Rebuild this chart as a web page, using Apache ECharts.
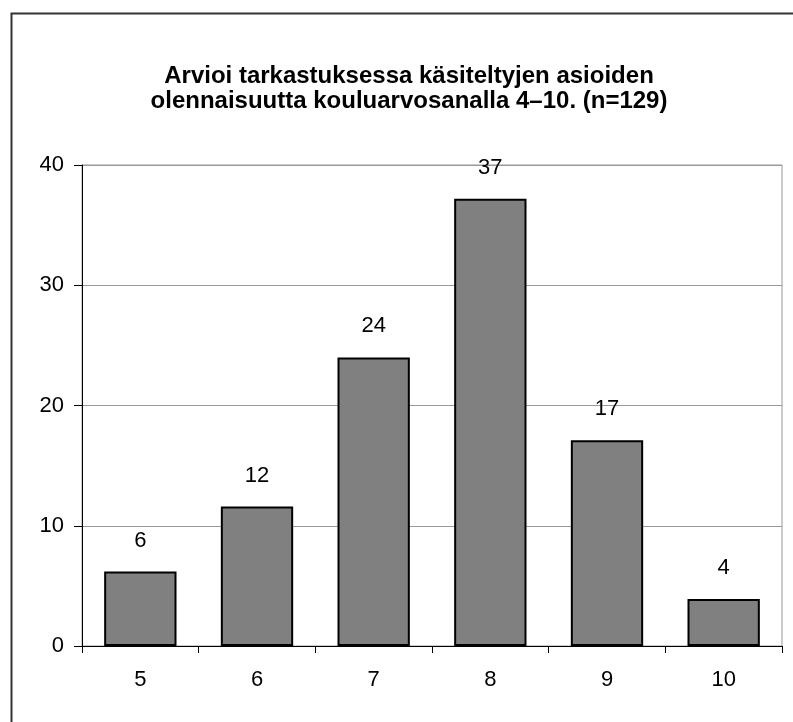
<!DOCTYPE html>
<html><head><meta charset="utf-8">
<script src="https://cdn.jsdelivr.net/npm/echarts@6/dist/echarts.min.js"></script>
<style>html,body{margin:0;padding:0;background:#fff}#c{width:793px;height:722px}</style>
</head><body><div id="c"></div>
<script>
const titleText = 'Arvioi tarkastuksessa käsiteltyjen asioiden\nolennaisuutta kouluarvosanalla 4–10. (n=129)';
const categories = ['5', '6', '7', '8', '9', '10'];
const values = [6.2, 11.6, 24.0, 37.2, 17.1, 3.9];
const yTicks = [0, 10, 20, 30, 40];

const chart = echarts.init(document.getElementById('c'), null, {renderer: 'canvas'});
chart.setOption({
  animation: false,
  backgroundColor: '#fff',
  graphic: [{
    type: 'rect', left: 9, top: 11, z: 100, silent: true,
    shape: {x: 0, y: 0, width: 800, height: 730},
    style: {fill: 'none', stroke: '#333', lineWidth: 2}
  }],
  title: {
    text: titleText, left: 404, top: 59, textAlign: 'center',
    textStyle: {fontFamily: 'Liberation Sans, Arial', fontWeight: 'bold', fontSize: 24, color: '#000', lineHeight: 25}
  },
  grid: {left: 82, right: 11, top: 165, bottom: 76, show: true, borderColor: '#999', borderWidth: 1},
  xAxis: {
    type: 'category', data: categories,
    axisLine: {lineStyle: {color: '#000', width: 1}},
    axisTick: {show: true, length: 7, inside: false, alignWithLabel: false, lineStyle: {color: '#000'}},
    axisLabel: {fontFamily: 'Liberation Sans, Arial', fontSize: 22, color: '#000', margin: 23}
  },
  yAxis: {
    type: 'value', min: yTicks[0], max: yTicks[yTicks.length - 1], interval: 10,
    axisLine: {show: true, lineStyle: {color: '#000', width: 1}},
    axisTick: {show: true, length: 8, lineStyle: {color: '#000'}},
    axisLabel: {fontFamily: 'Liberation Sans, Arial', fontSize: 22, color: '#000', margin: 18},
    splitLine: {lineStyle: {color: '#999', width: 1}}
  },
  series: [{
    type: 'bar', data: values, barCategoryGap: '38%',
    itemStyle: {color: '#808080', borderColor: '#000', borderWidth: 2},
    label: {
      show: true, position: 'top', distance: 20,
      fontFamily: 'Liberation Sans, Arial', fontSize: 22, color: '#000',
      formatter: p => Math.round(p.value).toString()
    }
  }]
});
</script></body></html>
